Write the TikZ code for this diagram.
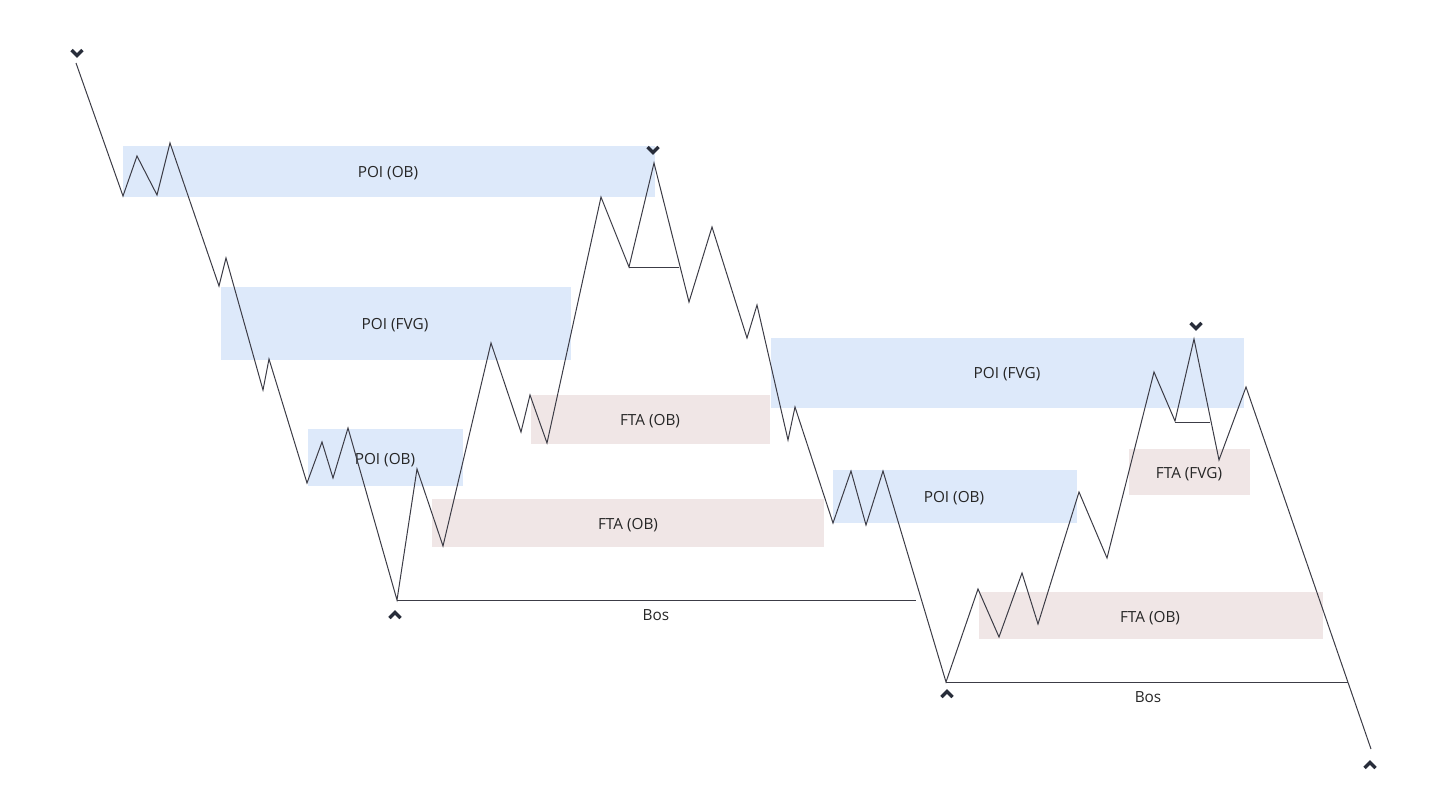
\documentclass[tikz,border=0pt]{standalone}
\usepackage{fontspec}
\setmainfont{Open Sans}
\usepackage{tikz}
\definecolor{poiblue}{RGB}{221,233,250}
\definecolor{ftapink}{RGB}{240,230,230}
\definecolor{pline}{RGB}{60,60,70}
\definecolor{chevcol}{RGB}{40,45,58}
\tikzset{
  poi/.style={fill=poiblue},
  fta/.style={fill=ftapink},
  price/.style={pline,line width=0.75pt,line join=miter},
  level/.style={pline,line width=0.75pt},
  lbl/.style={font=\fontsize{11.5}{13}\selectfont,text=black!85},
  chevdown/.style={chevcol,line width=2.6pt},
}
\begin{document}
\begin{tikzpicture}[x=0.75pt,y=-0.75pt]
                    \useasboundingbox (0,0) rectangle (1429,811);
                    \fill[poi] (123,146) rectangle (655,197);
                    \fill[poi] (221,287) rectangle (571,360);
                    \fill[poi] (308,429) rectangle (463,486);
                    \fill[fta] (531,395) rectangle (770,444);
                    \fill[fta] (432,499) rectangle (824,547);
                    \fill[poi] (771,338) rectangle (1244,408);
                    \fill[poi] (833,470) rectangle (1077,523);
                    \fill[fta] (1129,449) rectangle (1250,495);
                    \fill[fta] (979,592) rectangle (1323,639);

                    \node[lbl] (poiA) at (388,173) {POI (OB)};
                    \node[lbl] (poiB) at (395,325) {POI (FVG)};
                    \node[lbl] (poiC) at (385,460) {POI (OB)};
                    \node[lbl] (ftaA) at (650,421) {FTA (OB)};
                    \node[lbl] (ftaB) at (628,525) {FTA (OB)};
                    \node[lbl] (poiD) at (1007,374) {POI (FVG)};
                    \node[lbl] (poiE) at (954,498) {POI (OB)};
                    \node[lbl] (ftaC) at (1189,474) {FTA (FVG)};
                    \node[lbl] (ftaD) at (1150,618) {FTA (OB)};

                    \draw[price] (76,63) -- (123,196) -- (137,156) -- (157,195) -- (170,143)
                      -- (219,286) -- (226,258) -- (263,390) -- (269,359) -- (307,483)
                      -- (322,442) -- (333,478) -- (348,428) -- (397,600) -- (417,469)
                      -- (443,546) -- (491,343) -- (521,432) -- (530,395) -- (547,443)
                      -- (601,197) -- (629,267) -- (654,163) -- (689,302) -- (712,227)
                      -- (747,338) -- (757,305) -- (788,440) -- (795,407) -- (833,523)
                      -- (851,471) -- (866,525) -- (883,471) -- (946,682) -- (978,589)
                      -- (999,637) -- (1022,573) -- (1038,624) -- (1079,492) -- (1107,558)
                      -- (1154,372) -- (1175,421) -- (1194,339) -- (1219,460) -- (1246,387)
                      -- (1371,749);

                    \draw[level] (629,267) -- (679,267);
                    \draw[level] (1175,422) -- (1210,422);
                    \draw[level] (397,600) -- (916,600);
                    \node[lbl] (bosA) at (656,615) {Bos};
                    \draw[level] (946,682) -- (1348,682);
                    \node[lbl] (bosB) at (1148,697) {Bos};

                    \foreach \cx/\cy in {77/53, 653/150, 1196/326}
                      \draw[chevdown] (\cx-5.5,\cy-3) -- (\cx,\cy+2.5) -- (\cx+5.5,\cy-3);
                    \foreach \cx/\cy in {395/615, 947/694, 1370/765}
                      \draw[chevdown] (\cx-5.5,\cy+3) -- (\cx,\cy-2.5) -- (\cx+5.5,\cy+3);
                \end{tikzpicture}
\end{document}
